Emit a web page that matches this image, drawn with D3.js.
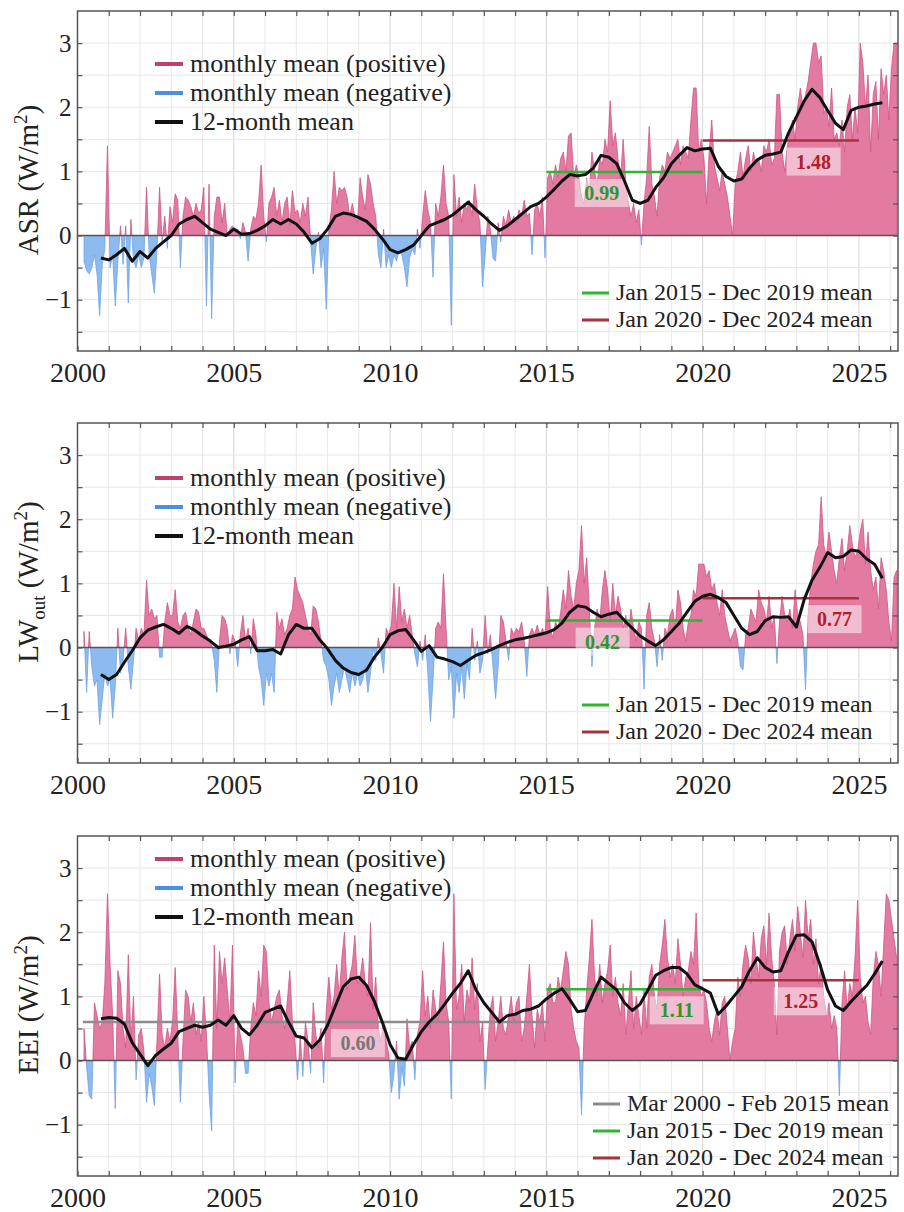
<!DOCTYPE html>
<html>
<head>
<meta charset="utf-8">
<script src="https://cdn.jsdelivr.net/npm/d3@7"></script>
<style>
  body { margin: 0; background: #fff; }
  svg, svg text, svg tspan { font-family: "Liberation Serif", "Times New Roman", Times, "DejaVu Serif", serif !important; }
</style>
</head>
<body>
<div id="chart"></div>
<script>
// Monthly anomalies (W/m2), Mar 2000 .. Mar 2026, one row per year
var asrMonthly = [
  -0.4, -0.55, -0.6, -0.5, -0.3, -0.6, -1.25, -0.45, -0.2, 1.4,
  -0.5, -0.3, -1.1, -0.4, 0.15, -0.45, 0.15, -1.05, 0.25, -0.4, -0.5, -0.3,
  -0.5, -0.35, 0.75, -0.3, -0.6, -0.9, -0.25, 0.75, -0.1, 0.3, -0.2, 0.45,
  0.2, 0.65, 0.55, -0.5, 0.3, 0.6, 0.55, 0.45, 0.3, 0.5, 0.35, 0.4,
  0.75, -1.1, 0.8, -1.3, 0.3, 0.6, 0.6, 0.2, 0.5, 0.0, 0.1, 0.15,
  0.05, 0.1, -0.05, 0.2, 0.05, -0.4, 0.1, 0.3, 0.25, 0.5, 1.1, 0.3,
  -0.1, 0.5, 0.6, 0.75, 0.3, 0.55, 0.2, 0.5, 0.6, 0.15, 0.7, 0.35,
  0.4, 0.2, 0.5, 0.3, 0.6, -0.1, -0.6, -0.2, 0.05, -0.5, -0.2, -1.15,
  0.1, 0.4, 1.0, 0.5, 0.75, 0.7, 0.75, 0.6, 0.3, 0.5, 0.3, 0.2,
  0.9, 0.6, 0.4, 0.95, 0.8, 0.5, 0.3, -0.3, -0.5, 0.1, -0.5, -0.3,
  -0.5, -0.3, -0.4, -0.2, -0.3, -0.5, -0.8, -0.35, -0.2, -0.3, 0.1, -0.2,
  0.3, 0.7, 0.4, 0.2, -0.65, 0.5, 0.3, 0.6, 1.1, 0.5, 0.3, -1.4,
  0.95, 0.3, 0.6, 0.2, 0.5, 0.4, 0.55, 0.3, 0.8, 0.4, 0.2, -0.8,
  -0.3, 0.3, 0.1, -0.35, -0.4, 0.2, -0.1, 0.3, 0.15, 0.4, 0.2, 0.3,
  0.2, 0.4, 0.3, 0.55, 0.3, 0.35, -0.3, 0.4, 0.5, 0.3, 0.6, -0.35,
  0.9, 1.0, 0.8, 1.1, 0.9, 1.2, 1.3, 1.0, 1.55, 1.6, 0.9, 1.1,
  0.9, 0.6, 0.5, 0.9, 0.7, 1.3, 1.0, 0.8, 1.2, 1.1, 1.5, 1.3,
  2.1, 1.4, 1.6, 1.2, 0.9, 1.5, 0.8, 0.5, 0.3, 0.5, 0.2, 0.4,
  -0.15, 0.5, 0.9, 1.7, 0.8, 0.6, 0.3, 0.9, 1.1, 1.0, 1.3, 1.2,
  1.3, 1.4, 1.5, 1.1, 1.4, 1.3, 1.2, 1.8, 2.3, 2.3, 1.3, 1.5,
  1.2, 0.5, 1.3, 1.8, 1.1, 0.9, 0.7, 1.0, 0.8, 0.6, 0.3, 0.0,
  0.8, 1.0, 1.3, 0.9, 1.2, 1.4, 1.0, 1.3, 1.1, 1.2, 1.0, 1.4,
  1.3, 1.5, 1.1, 1.2, 2.2, 2.2, 1.3, 1.0, 1.4, 1.6, 1.8, 1.5,
  2.0, 2.3, 2.0, 2.2, 2.4, 2.7, 3.0, 3.0, 2.7, 2.8, 1.9, 2.0,
  1.7, 2.3, 1.5, 1.6, 1.4, 1.8, 1.3, 2.0, 2.2, 1.5, 2.0, 1.6,
  3.0, 2.7, 2.0, 2.5, 1.3, 2.2, 2.4, 1.5, 2.6, 2.2, 2.5, 1.8,
  2.6, 3.0, 3.0
];

var lwMonthly = [
  0.25, -0.7, 0.25, -0.3, -0.6, -0.5, -1.2, -0.8, -0.4, -0.6,
  -0.5, -1.1, -0.6, 0.3, -0.4, -0.2, 0.3, -0.3, -0.65, -0.2, 0.3, 0.1,
  0.3, 0.2, 1.05, 0.5, 0.6, 0.45, 0.5, -0.15, -0.15, 0.4, 0.7, 0.5,
  0.5, 0.9, 0.4, 0.3, 0.5, 0.55, 0.3, 0.2, 0.4, 0.6, 0.55, 0.3,
  0.3, 0.2, 0.1, 0.05, -0.2, -0.7, 0.1, 0.5, 0.45, 0.3, -0.1, 0.2,
  0.1, -0.3, 0.2, 0.5, 0.1, 0.3, -0.1, 0.45, 0.2, -0.3, -0.5, -0.9,
  -0.4, -0.6, -0.4, -0.7, 0.55, 0.3, 0.45, 0.2, 0.3, 0.5, 0.6, 1.1,
  0.9, 0.8, 0.7, 0.5, 0.3, 0.2, 0.65, 0.6, 0.4, 0.1, -0.2, -0.3,
  -0.5, -0.9, -0.6, -0.4, -0.7, -0.5, -0.3, -0.5, -0.7, -0.4, -0.6, -0.4,
  -0.6, -0.5, -0.3, -0.7, -0.4, 0.0, -0.2, 0.15, -0.1, -0.4, 0.3, 0.2,
  0.35, 1.0, 0.3, 0.95, 0.4, 0.6, 0.3, 0.5, 0.2, -0.1, -0.3, 0.1,
  -0.2, 0.2, -0.4, -1.15, -0.5, 0.3, 0.4, 0.3, 1.15, 0.3, -0.5, -0.3,
  -1.1, -0.4, -0.7, -0.3, -0.8, -0.25, -0.5, 0.3, -0.2, 0.1, -0.4, -0.2,
  0.5, -0.1, 0.2, -0.3, -0.8, -0.3, 0.5, 0.4, 0.1, -0.2, 0.3, 0.2,
  0.3, 0.25, 0.4, 0.1, -0.45, 0.2, 0.3, 0.2, 0.35, 0.2, 0.3, 0.2,
  0.95, 0.3, 0.15, 0.4, 0.3, 0.55, 0.9, 0.6, 1.2, 0.8, 0.6, 1.0,
  1.2, 1.9, 1.0, 1.4, 0.6, -0.3, 0.3, 0.6, 0.4, 0.9, 1.2, 0.9,
  0.4, 1.0, 0.5, 0.8, 0.6, 0.3, 0.5, 0.2, 0.6, 0.3, 0.1, 0.4,
  0.3, -0.65, 0.5, 0.7, 0.3, 0.1, -0.3, 0.2, -0.2, 0.3, 0.2, 0.5,
  0.6, 0.3, 0.9, 0.7, 0.3, 0.1, 0.4, 0.5, 0.9, 0.8, 1.3, 1.3,
  1.3, 1.1, 1.2, 0.9, 1.0, 0.7, 0.5, 0.9, 0.5, 0.3, 0.1, 0.2,
  0.3, 0.1, -0.3, -0.35, 0.2, 0.3, 0.6, 0.5, 0.4, 0.9, 0.7, 0.6,
  0.4, 0.8, 0.3, 0.5, -0.25, 0.4, 0.8, 0.5, 0.4, 0.6, 0.3, 0.9,
  0.5, 0.4, 0.2, -0.65, 0.5, 1.0, 1.3, 1.5, 1.6, 2.35, 1.6, 1.4,
  1.8, 1.5, 1.2, 1.0, 1.4, 1.7, 1.2, 1.5, 1.9, 1.6, 1.4, 1.5,
  1.8, 2.0, 1.3, 1.8, 1.2, 0.9, 1.1, 0.6, 1.4, 1.2, 0.9, 0.4,
  0.1, 1.1, 1.2
];

var eeiMonthly = [
  0.5, -0.1, -0.55, -0.6, 0.9, 0.7, 0.5, 0.6, 1.2, 2.6,
  1.5, 0.7, -0.75, 1.4, 1.2, 0.5, 0.2, 1.65, 0.3, 1.0, -0.3, 0.4,
  0.5, 0.15, -0.65, -0.2, -0.4, -0.7, 0.3, 1.35, 0.4, 0.2, 0.5, 0.3,
  0.6, 1.45, 0.4, -0.65, 0.3, 1.1, 1.0, 0.6, 0.9, 0.4, 0.6, 0.3,
  1.0, 0.4, -0.5, -1.1, 1.8, 0.5, 1.7, 1.2, 1.6, 1.1, 0.6, 1.8,
  -0.35, 0.6, 0.4, 0.2, -0.2, -0.2, 0.5, 0.9, 0.7, 1.4, 1.0, 1.8,
  1.7, 0.9, 0.6, 0.8, 1.0, 1.1, 0.7, 0.5, 0.9, 1.4, 0.6, 0.3,
  -0.3, 0.4, -0.25, 0.6, 0.3, -0.2, 0.9, 0.4, 0.2, 0.5, -0.35, 0.8,
  1.3, 0.8, 1.0, 1.5, 1.0, 1.6, 2.0, 1.1, 1.3, 1.5, 1.95, 1.2,
  1.3, 1.6, 1.2, 1.0, 2.15, 0.8, 1.3, 0.5, 0.3, 0.6, 0.3, 0.1,
  -0.5, -0.2, 0.3, -0.6, -0.1, -0.4, 0.65, 0.2, 0.3, -0.3, 0.4, 0.6,
  1.4, 0.7, 1.0, 0.5, 1.1, 0.8, 0.6, 1.2, 1.85, 0.9, 0.6, -0.6,
  2.6, 0.8, 1.0, 1.5, 0.6, 1.1, 0.9, 1.6, 0.8, 1.2, 0.3, 0.6,
  -0.45, 0.2, 0.8, 1.0, 0.3, 0.6, 1.0, 0.5, 0.4, 0.7, 1.0, 0.6,
  0.9, 1.0, 0.3, 0.5, 1.0, 1.5, 0.7, 0.2, 0.8, 0.6, 0.9, 0.3,
  1.1, 1.2, 0.9, 0.9, 1.3, 1.1, 1.4, 1.7, 1.5, 0.8, 0.5, 0.3,
  0.2, -0.85, 0.5, 1.1, 1.6, 2.2, 1.3, 1.0, 1.5, 0.9, 1.2, 1.4,
  1.8, 1.0, 1.3, 0.9, 0.7, 1.2, 0.4, 0.9, 1.4, 0.5, 1.0, 0.7,
  0.4, 1.1, 0.5, 1.3, 1.5, 1.0, 0.8, 1.5, 1.8, 2.2, 1.6, 1.3,
  1.5, 1.2, 1.9, 1.5, 1.0, 1.3, 1.4, 1.7, 1.5, 2.3, 1.2, 1.0,
  1.1, 0.9, 0.5, 0.3, 0.6, 0.8, 0.4, 0.9, 1.0, 0.5, 0.0, 0.3,
  0.5, 1.3, 1.0, 1.5, 1.8, 1.6, 1.2, 2.0, 1.6, 1.3, 1.9, 2.1,
  1.5, 2.3, 1.6, 1.2, 0.4, 1.7, 2.0, 2.1, 1.5, 1.9, 2.2, 1.7,
  2.4, 2.0, 1.6, 2.5, 1.9, 2.2, 1.5, 1.9, 1.2, 1.5, 1.0, 0.7,
  0.9, 0.5, 0.7, 0.5, -0.55, 0.9, 1.4, 0.8, 1.2, 1.0, 1.6, 2.5,
  1.3, 0.9, 1.0, 0.6, 0.4, 1.3, 1.7, 1.5, 1.0, 1.8, 2.6, 2.5,
  2.2, 1.9, 1.6
];

// 12-month running means, read every quarter from 2000.75 to 2025.75
var asrMean12 = [
  -0.35,
  -0.38, -0.3, -0.2, -0.4,
  -0.25, -0.35, -0.2, -0.1,
  0.0, 0.18, 0.25, 0.3,
  0.2, 0.1, 0.05, 0.0,
  0.1, 0.02, 0.03, 0.08,
  0.15, 0.25, 0.18, 0.25,
  0.18, 0.05, -0.12, -0.05,
  0.1, 0.3, 0.35, 0.33,
  0.28, 0.22, 0.1, -0.05,
  -0.22, -0.27, -0.22, -0.15,
  0.0, 0.15, 0.2, 0.25,
  0.32, 0.42, 0.52, 0.4,
  0.3, 0.18, 0.08, 0.15,
  0.25, 0.35, 0.45, 0.5,
  0.6, 0.72, 0.85, 0.95,
  0.93, 0.95, 1.05, 1.25,
  1.22, 1.12, 0.85, 0.55,
  0.5, 0.55, 0.75, 0.9,
  1.12, 1.25, 1.37, 1.32,
  1.35, 1.36, 1.08, 0.92,
  0.85, 0.88, 1.05, 1.18,
  1.25, 1.27, 1.3, 1.6,
  1.85, 2.1, 2.28, 2.15,
  1.95, 1.75, 1.65, 1.95,
  2.0, 2.02, 2.05, 2.07
];

var lwMean12 = [
  -0.42,
  -0.5, -0.42, -0.23, -0.05,
  0.15, 0.27, 0.32, 0.36,
  0.3, 0.22, 0.33, 0.27,
  0.18, 0.1, 0.0, 0.02,
  0.05, 0.12, 0.17, -0.05,
  -0.05, -0.03, -0.1, 0.2,
  0.36, 0.3, 0.3, 0.12,
  -0.02, -0.2, -0.32, -0.39,
  -0.42, -0.35, -0.15, 0.0,
  0.2, 0.26, 0.28, 0.12,
  -0.06, 0.03, -0.15, -0.18,
  -0.22, -0.28, -0.2, -0.12,
  -0.08, -0.03, 0.03, 0.08,
  0.12, 0.14, 0.17, 0.2,
  0.23, 0.28, 0.38, 0.55,
  0.65, 0.63, 0.55, 0.48,
  0.52, 0.55, 0.42, 0.3,
  0.18, 0.1, 0.03, 0.12,
  0.25, 0.38, 0.55, 0.72,
  0.8, 0.83, 0.78, 0.7,
  0.5, 0.3, 0.2, 0.25,
  0.42, 0.48, 0.47, 0.48,
  0.32, 0.75, 1.05, 1.25,
  1.48, 1.4, 1.42, 1.52,
  1.5, 1.38, 1.3, 1.08
];

var eeiMean12 = [
  0.65,
  0.67, 0.66, 0.57, 0.28,
  0.1, -0.08, 0.08, 0.18,
  0.27, 0.45, 0.5, 0.55,
  0.52, 0.55, 0.63, 0.55,
  0.7, 0.5, 0.4, 0.55,
  0.75, 0.8, 0.85, 0.6,
  0.38, 0.35, 0.2, 0.32,
  0.55, 0.85, 1.15, 1.27,
  1.3, 1.17, 0.92, 0.6,
  0.25, 0.04, 0.02, 0.25,
  0.45, 0.6, 0.72, 0.88,
  1.05, 1.2, 1.4, 1.1,
  0.9, 0.75, 0.6, 0.7,
  0.72, 0.78, 0.8, 0.85,
  0.96, 1.05, 1.12, 0.95,
  0.76, 0.78, 1.05, 1.3,
  1.2, 1.1, 0.9, 0.78,
  0.88, 1.1, 1.33, 1.4,
  1.45, 1.45, 1.35, 1.18,
  1.12, 1.05, 0.72, 0.85,
  1.0, 1.15, 1.4, 1.6,
  1.45, 1.38, 1.4, 1.7,
  1.95, 1.96, 1.85, 1.5,
  1.1, 0.85, 0.78, 0.92,
  1.05, 1.17, 1.35, 1.55
];

// period means (Mar 2000-Feb 2015, Jan 2015-Dec 2019, Jan 2020-Dec 2024)
var periodLabels = ["Mar 2000 - Feb 2015 mean", "Jan 2015 - Dec 2019 mean", "Jan 2020 - Dec 2024 mean"];
var periodStart = [2000.17, 2015, 2020];
var periodEnd = [2015.08, 2020, 2025];
var asrPeriodMeans = [null, 0.99, 1.48];
var lwPeriodMeans = [null, 0.42, 0.77];
var eeiPeriodMeans = [0.60, 1.11, 1.25];

var legendLabels = ["monthly mean (positive)", "monthly mean (negative)", "12-month mean"];
var xTickLabels = [2000, 2005, 2010, 2015, 2020, 2025];
var yTickLabels = [-1, 0, 1, 2, 3];

var mean12Start = 2000.75;
var firstMonth = 2000 + 2.5 / 12;   // mid March 2000

// Layout
var width = 904;
var height = 1212;
var left = 77.5;
var right = 898;
var panelH = 340;
var serif = "'Liberation Serif', 'Times New Roman', Times, 'DejaVu Serif', serif";

var posFill = "#e27aa1";
var posEdge = "#cf5585";
var negFill = "#8dbaef";
var negEdge = "#6fa3e6";
var posKey = "#c0406e";
var negKey = "#4b8fe0";
var periodColors = ["#8c8c8c", "#2fb52f", "#a8323c"];
var labelColors = ["#777777", "#2e962e", "#b0202c"];

var panels = [
  {title: "ASR", sub: "", monthly: asrMonthly, mean12: asrMean12, periods: asrPeriodMeans,
   top: 11, keyTop: 53, labelYears: [null, 2016.77, 2023.55], pKeyX: 582, pKeyTop: 282, titleShift: -1},
  {title: "LW", sub: "out", monthly: lwMonthly, mean12: lwMean12, periods: lwPeriodMeans,
   top: 423, keyTop: 55, labelYears: [null, 2016.8, 2024.22], pKeyX: 582, pKeyTop: 282, titleShift: -11},
  {title: "EEI", sub: "", monthly: eeiMonthly, mean12: eeiMean12, periods: eeiPeriodMeans,
   top: 836, keyTop: 23, labelYears: [2008.97, 2019.17, 2023.14], pKeyX: 593, pKeyTop: 268, titleShift: -1}
];

var svg = d3.select("#chart")
  .append("svg")
  .attr("width", width)
  .attr("height", height)
  .attr("font-family", serif)

var defs = svg.append("defs");

var xScale = d3.scaleLinear()
  .domain([2000, 2026.25])
  .range([left, right])

function drawPanel(p, idx) {
  var top = p.top;
  var bottom = top + panelH;
  var yScale = d3.scaleLinear()
    .domain([-1.8, 3.5])
    .range([bottom, top])
  var y0 = yScale(0);

  var g = svg.append("g");

  // clip regions above / below zero
  defs.append("clipPath").attr("id", "pos" + idx)
    .append("rect").attr("x", left).attr("y", top).attr("width", right - left).attr("height", y0 - top);
  defs.append("clipPath").attr("id", "neg" + idx)
    .append("rect").attr("x", left).attr("y", y0).attr("width", right - left).attr("height", bottom - y0);
  defs.append("clipPath").attr("id", "plot" + idx)
    .append("rect").attr("x", left).attr("y", top).attr("width", right - left).attr("height", panelH);

  // grid
  g.selectAll(".vgrid")
    .data(d3.range(2001, 2027))
    .enter()
    .append("line")
    .attr("x1", d => xScale(d)).attr("x2", d => xScale(d))
    .attr("y1", top).attr("y2", bottom)
    .attr("stroke", d => d % 5 === 0 ? "#d4d4d4" : "#e9e9e9")
    .attr("stroke-width", 1)

  g.selectAll(".hgrid")
    .data(d3.range(-1.5, 3.01, 0.5))
    .enter()
    .append("line")
    .attr("x1", left).attr("x2", right)
    .attr("y1", d => yScale(d)).attr("y2", d => yScale(d))
    .attr("stroke", "#e6e6e6")
    .attr("stroke-width", 1)

  // monthly means as filled area, split at zero
  var area = d3.area()
    .x((d, i) => xScale(firstMonth + i / 12))
    .y0(y0)
    .y1(d => yScale(d))

  g.append("path").datum(p.monthly)
    .attr("d", area)
    .attr("fill", posFill)
    .attr("stroke", posEdge)
    .attr("stroke-width", 0.8)
    .attr("clip-path", "url(#pos" + idx + ")")

  g.append("path").datum(p.monthly)
    .attr("d", area)
    .attr("fill", negFill)
    .attr("stroke", negEdge)
    .attr("stroke-width", 0.8)
    .attr("clip-path", "url(#neg" + idx + ")")

  // zero line
  g.append("line")
    .attr("x1", left).attr("x2", right)
    .attr("y1", y0).attr("y2", y0)
    .attr("stroke", "#555")
    .attr("stroke-width", 1.4)

  // period mean lines and value boxes
  p.periods.forEach(function(v, k) {
    if (v === null) return;
    g.append("line")
      .attr("x1", xScale(periodStart[k])).attr("x2", xScale(periodEnd[k]))
      .attr("y1", yScale(v)).attr("y2", yScale(v))
      .attr("stroke", periodColors[k])
      .attr("stroke-width", 2.5)
  });
  p.periods.forEach(function(v, k) {
    if (v === null) return;
    var cx = xScale(p.labelYears[k]);
    var cy = yScale(v) + 21;
    g.append("rect")
      .attr("x", cx - 27).attr("y", cy - 14)
      .attr("width", 54).attr("height", 28)
      .attr("fill", "#fff")
      .attr("opacity", 0.5)
    g.append("text")
      .attr("x", cx).attr("y", cy + 7)
      .attr("text-anchor", "middle")
      .attr("font-size", 20)
      .attr("font-weight", "bold")
      .attr("fill", labelColors[k])
      .text(v.toFixed(2))
  });

  // 12-month mean
  var line = d3.line()
    .x((d, i) => xScale(mean12Start + i * 0.25))
    .y(d => yScale(d))

  g.append("path").datum(p.mean12)
    .attr("d", line)
    .attr("fill", "none")
    .attr("stroke", "#111")
    .attr("stroke-width", 3)
    .attr("stroke-linejoin", "round")
    .attr("clip-path", "url(#plot" + idx + ")")

  // axes with inward ticks
  var xAxis = d3.axisBottom(xScale)
    .tickValues(d3.range(2000, 2027))
    .tickSizeInner(-5).tickSizeOuter(0).tickPadding(11)
    .tickFormat(d => xTickLabels.indexOf(d) >= 0 ? d : "")
  var xTop = d3.axisTop(xScale)
    .tickValues(d3.range(2001, 2027))
    .tickSizeInner(-5).tickSizeOuter(0)
    .tickFormat("")
  var yAxis = d3.axisLeft(yScale)
    .tickValues(d3.range(-1.5, 3.01, 0.5))
    .tickSizeInner(-5).tickSizeOuter(0).tickPadding(6)
    .tickFormat(d => yTickLabels.indexOf(d) >= 0 ? (d < 0 ? "\u2212" + (-d) : d) : "")
  var yRight = d3.axisRight(yScale)
    .tickValues(d3.range(-1.5, 3.01, 0.5))
    .tickSizeInner(-5).tickSizeOuter(0)
    .tickFormat("")

  var axes = [
    g.append("g").attr("transform", "translate(0," + bottom + ")").call(xAxis),
    g.append("g").attr("transform", "translate(0," + top + ")").call(xTop),
    g.append("g").attr("transform", "translate(" + left + ",0)").call(yAxis),
    g.append("g").attr("transform", "translate(" + right + ",0)").call(yRight)
  ];
  axes.forEach(function(a) {
    a.attr("font-family", serif).attr("font-size", null);
    a.select(".domain").remove();
    a.selectAll(".tick line").attr("stroke", "#555").attr("stroke-width", 1.2);
    a.selectAll(".tick text").attr("fill", "#222");
  });
  axes[0].selectAll(".tick text").attr("font-size", 28);
  axes[2].selectAll(".tick text").attr("font-size", 25);

  // frame
  g.append("rect")
    .attr("x", left).attr("y", top)
    .attr("width", right - left).attr("height", panelH)
    .attr("fill", "none")
    .attr("stroke", "#555")
    .attr("stroke-width", 1.5)

  // y axis title
  var ty = (top + bottom) / 2 + p.titleShift;
  var title = g.append("text")
    .attr("transform", "translate(38," + ty + ") rotate(-90)")
    .attr("text-anchor", "middle")
    .attr("font-size", 29)
    .attr("fill", "#222")
  title.append("tspan").text(p.title);
  if (p.sub) {
    title.append("tspan").attr("dy", 7).attr("font-size", 19).text(p.sub);
    title.append("tspan").attr("dy", -7).text(" (W/m");
  } else {
    title.append("tspan").text(" (W/m");
  }
  title.append("tspan").attr("dy", -11).attr("font-size", 19).text("2");
  title.append("tspan").attr("dy", 11).text(")");

  // legend, top left
  var keyColors = [posKey, negKey, "#111"];
  legendLabels.forEach(function(lab, k) {
    var ry = top + p.keyTop + k * 29;
    g.append("line")
      .attr("x1", 155).attr("x2", 183)
      .attr("y1", ry).attr("y2", ry)
      .attr("stroke", keyColors[k])
      .attr("stroke-width", 4)
    g.append("text")
      .attr("x", 190).attr("y", ry + 8)
      .attr("font-size", 26)
      .attr("fill", "#222")
      .text(lab)
  });

  // legend, bottom right (period means)
  var row = 0;
  p.periods.forEach(function(v, k) {
    if (v === null) return;
    var ry = top + p.pKeyTop + row * 27;
    g.append("line")
      .attr("x1", p.pKeyX).attr("x2", p.pKeyX + 27)
      .attr("y1", ry).attr("y2", ry)
      .attr("stroke", periodColors[k])
      .attr("stroke-width", 3)
    g.append("text")
      .attr("x", p.pKeyX + 34).attr("y", ry + 7)
      .attr("font-size", 24)
      .attr("fill", "#222")
      .text(periodLabels[k])
    row++;
  });
}

panels.forEach(drawPanel);
</script>
</body>
</html>
